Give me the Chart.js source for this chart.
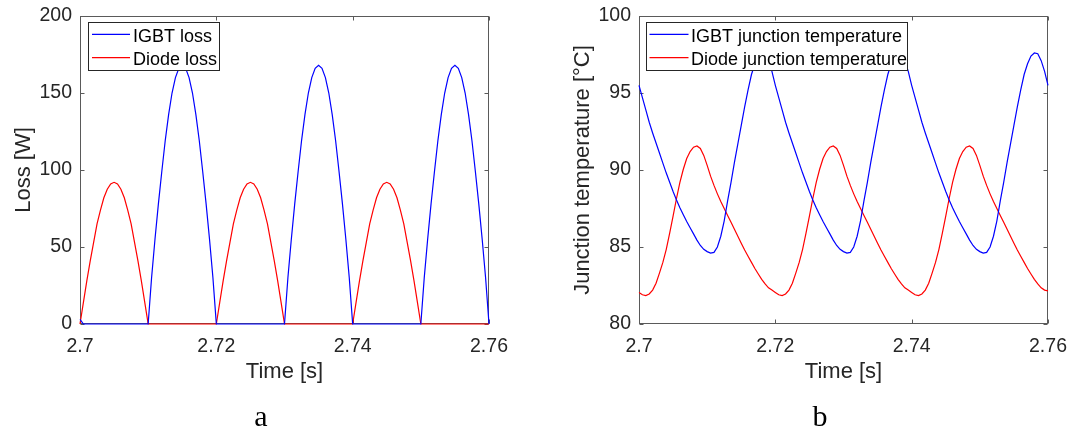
<!DOCTYPE html>
<html>
<head>
<meta charset="utf-8">
<script src="https://cdn.jsdelivr.net/npm/chart.js@4.4.1/dist/chart.umd.min.js"></script>
<style>
  html, body { margin: 0; padding: 0; background: #fff; }
  #wrap { position: relative; width: 1069px; height: 430px; overflow: hidden; background: #fff; }
  #wrap canvas { position: absolute; top: 0; }
  .tag { position: absolute; top: 401px; font-family: 'Liberation Serif', 'Times New Roman', serif;
         font-size: 30px; line-height: 30px; color: #000; transform: translateX(-50%); }
</style>
</head>
<body>
<div id="wrap">
  <canvas id="lossChart" width="535" height="430" style="left:0;width:535px;height:430px"></canvas>
  <canvas id="tempChart" width="534" height="430" style="left:535px;width:534px;height:430px"></canvas>
  <div class="tag" style="left:261px">a</div>
  <div class="tag" style="left:820px">b</div>
</div>
<script>
// Sample instants [s]
const time = [
  2.7000, 2.7005, 2.7010, 2.7015, 2.7020, 2.7025, 2.7030, 2.7035, 2.7040, 2.7045,
  2.7050, 2.7055, 2.7060, 2.7065, 2.7070, 2.7075, 2.7080, 2.7085, 2.7090, 2.7095,
  2.7100, 2.7105, 2.7110, 2.7115, 2.7120, 2.7125, 2.7130, 2.7135, 2.7140, 2.7145,
  2.7150, 2.7155, 2.7160, 2.7165, 2.7170, 2.7175, 2.7180, 2.7185, 2.7190, 2.7195,
  2.7200, 2.7205, 2.7210, 2.7215, 2.7220, 2.7225, 2.7230, 2.7235, 2.7240, 2.7245,
  2.7250, 2.7255, 2.7260, 2.7265, 2.7270, 2.7275, 2.7280, 2.7285, 2.7290, 2.7295,
  2.7300, 2.7305, 2.7310, 2.7315, 2.7320, 2.7325, 2.7330, 2.7335, 2.7340, 2.7345,
  2.7350, 2.7355, 2.7360, 2.7365, 2.7370, 2.7375, 2.7380, 2.7385, 2.7390, 2.7395,
  2.7400, 2.7405, 2.7410, 2.7415, 2.7420, 2.7425, 2.7430, 2.7435, 2.7440, 2.7445,
  2.7450, 2.7455, 2.7460, 2.7465, 2.7470, 2.7475, 2.7480, 2.7485, 2.7490, 2.7495,
  2.7500, 2.7505, 2.7510, 2.7515, 2.7520, 2.7525, 2.7530, 2.7535, 2.7540, 2.7545,
  2.7550, 2.7555, 2.7560, 2.7565, 2.7570, 2.7575, 2.7580, 2.7585, 2.7590, 2.7595,
  2.7600
];

// IGBT loss [W]
const igbtLoss = [
  3, 0, 0, 0, 0, 0, 0, 0, 0, 0,
  0, 0, 0, 0, 0, 0, 0, 0, 0, 0,
  0, 30, 55, 78, 99, 119, 136, 150, 160, 166,
  168, 166, 160, 150, 136, 119, 99, 78, 55, 30,
  0, 0, 0, 0, 0, 0, 0, 0, 0, 0,
  0, 0, 0, 0, 0, 0, 0, 0, 0, 0,
  0, 30, 55, 78, 99, 119, 136, 150, 160, 166,
  168, 166, 160, 150, 136, 119, 99, 78, 55, 30,
  0, 0, 0, 0, 0, 0, 0, 0, 0, 0,
  0, 0, 0, 0, 0, 0, 0, 0, 0, 0,
  0, 30, 55, 78, 99, 119, 136, 150, 160, 166,
  168, 166, 160, 150, 136, 119, 99, 78, 55, 30,
  0
];

// Diode loss [W]
const diodeLoss = [
  0, 14, 28, 41, 53, 65, 74, 82, 87.5, 91,
  92, 91, 87.5, 82, 74, 65, 53, 41, 28, 14,
  0, 0, 0, 0, 0, 0, 0, 0, 0, 0,
  0, 0, 0, 0, 0, 0, 0, 0, 0, 0,
  0, 14, 28, 41, 53, 65, 74, 82, 87.5, 91,
  92, 91, 87.5, 82, 74, 65, 53, 41, 28, 14,
  0, 0, 0, 0, 0, 0, 0, 0, 0, 0,
  0, 0, 0, 0, 0, 0, 0, 0, 0, 0,
  0, 14, 28, 41, 53, 65, 74, 82, 87.5, 91,
  92, 91, 87.5, 82, 74, 65, 53, 41, 28, 14,
  0, 0, 0, 0, 0, 0, 0, 0, 0, 0,
  0, 0, 0, 0, 0, 0, 0, 0, 0, 0,
  0
];

// IGBT junction temperature [°C]
const igbtTemp = [
  95.5, 94.7, 93.9, 93.1, 92.4, 91.75, 91.1, 90.45, 89.8, 89.2,
  88.6, 88.05, 87.55, 87.1, 86.65, 86.25, 85.85, 85.45, 85.1, 84.85,
  84.7, 84.6, 84.65, 85.0, 85.7, 86.7, 88.0, 89.2, 90.5, 91.7,
  92.9, 94.1, 95.2, 96.2, 96.9, 97.4, 97.6, 97.55, 97.1, 96.4,
  95.5, 94.7, 93.9, 93.1, 92.4, 91.75, 91.1, 90.45, 89.8, 89.2,
  88.6, 88.05, 87.55, 87.1, 86.65, 86.25, 85.85, 85.45, 85.1, 84.85,
  84.7, 84.6, 84.65, 85.0, 85.7, 86.7, 88.0, 89.2, 90.5, 91.7,
  92.9, 94.1, 95.2, 96.2, 96.9, 97.4, 97.6, 97.55, 97.1, 96.4,
  95.5, 94.7, 93.9, 93.1, 92.4, 91.75, 91.1, 90.45, 89.8, 89.2,
  88.6, 88.05, 87.55, 87.1, 86.65, 86.25, 85.85, 85.45, 85.1, 84.85,
  84.7, 84.6, 84.65, 85.0, 85.7, 86.7, 88.0, 89.2, 90.5, 91.7,
  92.9, 94.1, 95.2, 96.2, 96.9, 97.4, 97.6, 97.55, 97.1, 96.4,
  95.5
];

// Diode junction temperature [°C]
const diodeTemp = [
  82.05, 81.9, 81.85, 81.95, 82.2, 82.65, 83.3, 84.0, 84.85, 85.9,
  87.0, 88.15, 89.2, 90.05, 90.75, 91.2, 91.48, 91.56, 91.4, 90.95,
  90.3, 89.6, 89.0, 88.45, 87.95, 87.5, 87.05, 86.6, 86.15, 85.7,
  85.25, 84.8, 84.4, 84.0, 83.6, 83.25, 82.9, 82.6, 82.35, 82.2,
  82.05, 81.9, 81.85, 81.95, 82.2, 82.65, 83.3, 84.0, 84.85, 85.9,
  87.0, 88.15, 89.2, 90.05, 90.75, 91.2, 91.48, 91.56, 91.4, 90.95,
  90.3, 89.6, 89.0, 88.45, 87.95, 87.5, 87.05, 86.6, 86.15, 85.7,
  85.25, 84.8, 84.4, 84.0, 83.6, 83.25, 82.9, 82.6, 82.35, 82.2,
  82.05, 81.9, 81.85, 81.95, 82.2, 82.65, 83.3, 84.0, 84.85, 85.9,
  87.0, 88.15, 89.2, 90.05, 90.75, 91.2, 91.48, 91.56, 91.4, 90.95,
  90.3, 89.6, 89.0, 88.45, 87.95, 87.5, 87.05, 86.6, 86.15, 85.7,
  85.25, 84.8, 84.4, 84.0, 83.6, 83.25, 82.9, 82.6, 82.35, 82.2,
  82.15
];

// Axis ticks and labels
const timeTicks = [2.7, 2.72, 2.74, 2.76];
const timeTickLabels = ['2.7', '2.72', '2.74', '2.76'];
const lossTicks = [0, 50, 100, 150, 200];
const tempTicks = [80, 85, 90, 95, 100];
const lossNames = ['IGBT loss', 'Diode loss'];
const tempNames = ['IGBT junction temperature', 'Diode junction temperature'];

const SANS = "'Liberation Sans', Arial, Helvetica, sans-serif";
const INK = '#262626';
const BLUE = '#0000ff';
const RED = '#ff0000';

function points(vals) {
  return vals.map((v, i) => ({ x: time[i], y: v }));
}

// Axes box with inward tick marks on all four sides
const framePlugin = {
  id: 'frame',
  beforeDatasetsDraw(chart) {
    const { ctx, chartArea: a, scales: { x, y } } = chart;
    const L = Math.round(a.left) + 0.5, R = Math.round(a.right) - 0.5;
    const T = Math.round(a.top) + 0.5, B = Math.round(a.bottom) - 0.5;
    const len = 4;
    ctx.save();
    ctx.strokeStyle = '#5a5a5a';
    ctx.lineWidth = 1;
    ctx.strokeRect(L, T, R - L, B - T);
    ctx.beginPath();
    x.ticks.forEach(t => {
      const p = Math.round(x.getPixelForValue(t.value)) + 0.5;
      ctx.moveTo(p, B); ctx.lineTo(p, B - len);
      ctx.moveTo(p, T); ctx.lineTo(p, T + len);
    });
    y.ticks.forEach(t => {
      const p = Math.round(y.getPixelForValue(t.value)) + 0.5;
      ctx.moveTo(L, p); ctx.lineTo(L + len, p);
      ctx.moveTo(R, p); ctx.lineTo(R - len, p);
    });
    ctx.stroke();
    ctx.restore();
  }
};

// Boxed legend drawn over the curves
const boxLegend = {
  id: 'boxLegend',
  afterDatasetsDraw(chart, args, o) {
    const ctx = chart.ctx;
    ctx.save();
    ctx.fillStyle = '#fff';
    ctx.fillRect(o.x, o.y, o.w, o.h);
    ctx.strokeStyle = INK;
    ctx.lineWidth = 1;
    ctx.strokeRect(o.x + 0.5, o.y + 0.5, o.w - 1, o.h - 1);
    ctx.font = o.fontSize + 'px ' + SANS;
    ctx.textAlign = 'left';
    ctx.textBaseline = 'alphabetic';
    chart.data.datasets.forEach((ds, i) => {
      const ly = o.y + o.lineY + i * o.rowH;
      ctx.strokeStyle = ds.borderColor;
      ctx.lineWidth = 1.2;
      ctx.beginPath();
      ctx.moveTo(o.x + o.lineX0, ly);
      ctx.lineTo(o.x + o.lineX1, ly);
      ctx.stroke();
      ctx.fillStyle = '#000';
      ctx.fillText(ds.label, o.x + o.textX, o.y + o.baseY + i * o.rowH);
    });
    ctx.restore();
  }
};

function makeChart(id, cfg) {
  const tickFont = { family: SANS, size: 19.5 };
  const titleFont = { family: SANS, size: 22, lineHeight: 1.2 };
  return new Chart(document.getElementById(id), {
    type: 'line',
    data: {
      datasets: cfg.series.map(s => ({
        label: s.name,
        data: points(s.values),
        borderColor: s.color,
        backgroundColor: s.color,
        borderWidth: 1.2,
        pointRadius: 0,
        fill: false,
        tension: 0,
        clip: 3
      }))
    },
    options: {
      responsive: false,
      animation: false,
      devicePixelRatio: 1,
      layout: { padding: { left: 0, right: cfg.padRight, top: 16, bottom: 0 } },
      plugins: {
        legend: { display: false },
        tooltip: { enabled: false },
        boxLegend: cfg.legendBox
      },
      scales: {
        x: {
          type: 'linear',
          min: 2.7,
          max: 2.76,
          afterBuildTicks: s => { s.ticks = timeTicks.map(v => ({ value: v })); },
          afterFit: s => { s.height = 106; s.paddingLeft = 0; s.paddingRight = 0; },
          ticks: {
            callback: (v, i) => timeTickLabels[i],
            font: tickFont, color: INK, padding: 11,
            maxRotation: 0, autoSkip: false
          },
          grid: { display: false, drawTicks: false },
          border: { display: false },
          title: {
            display: true, text: 'Time [s]', font: titleFont, color: INK,
            padding: { top: 0, bottom: 44.8 }
          }
        },
        y: {
          type: 'linear',
          min: cfg.yTicks[0],
          max: cfg.yTicks[cfg.yTicks.length - 1],
          afterBuildTicks: s => { s.ticks = cfg.yTicks.map(v => ({ value: v })); },
          afterFit: s => { s.width = cfg.yWidth; s.paddingTop = 0; s.paddingBottom = 0; },
          ticks: { font: tickFont, color: INK, padding: 8, autoSkip: false },
          grid: { display: false, drawTicks: false },
          border: { display: false },
          title: {
            display: true, text: cfg.yTitle, font: titleFont, color: INK,
            padding: { top: cfg.yTitlePad, bottom: 0 }
          }
        }
      }
    },
    plugins: [framePlugin, boxLegend]
  });
}

makeChart('lossChart', {
  series: [
    { name: lossNames[0], values: igbtLoss, color: BLUE },
    { name: lossNames[1], values: diodeLoss, color: RED }
  ],
  yTicks: lossTicks,
  yTitle: 'Loss [W]',
  yWidth: 80,
  yTitlePad: 10.8,
  padRight: 46,
  legendBox: { x: 88, y: 22, w: 132, h: 49, lineX0: 4, lineX1: 42, textX: 45,
               lineY: 12.3, baseY: 19.7, rowH: 23.4, fontSize: 18 }
});

makeChart('tempChart', {
  series: [
    { name: tempNames[0], values: igbtTemp, color: BLUE },
    { name: tempNames[1], values: diodeTemp, color: RED }
  ],
  yTicks: tempTicks,
  yTitle: 'Junction temperature [°C]',
  yWidth: 104,
  yTitlePad: 34.8,
  padRight: 21,
  legendBox: { x: 111, y: 22, w: 262, h: 49, lineX0: 3.5, lineX1: 42.5, textX: 45,
               lineY: 12.3, baseY: 19.7, rowH: 23.4, fontSize: 18 }
});
</script>
</body>
</html>
